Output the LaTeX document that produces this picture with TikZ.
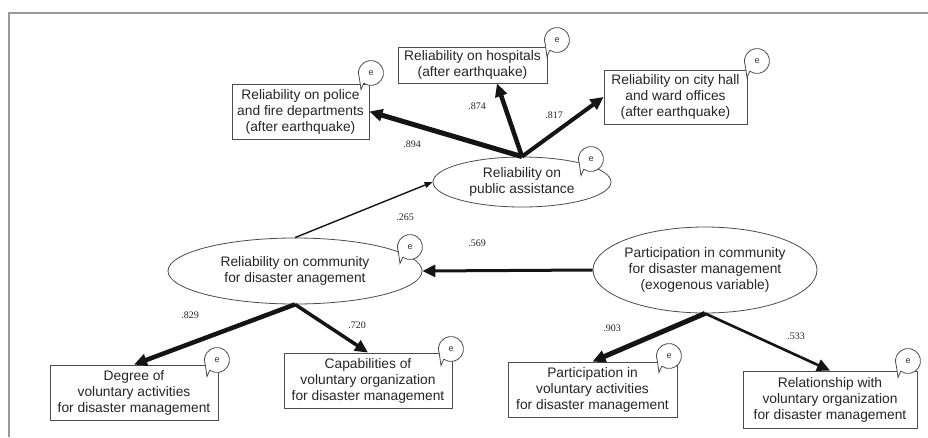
\documentclass[tikz,border=0pt]{standalone}
\usepackage{fontspec}
\setmainfont{Liberation Sans}
\newfontfamily\coeffont{Liberation Serif}
\usetikzlibrary{arrows.meta,shapes.geometric,calc}

\begin{document}
\begin{tikzpicture}[x=1pt,y=-1pt,
  boxtext/.style={font=\fontsize{13.8}{16}\selectfont, text=black!85, align=center},
  obs/.style={boxtext, draw=black!70, line width=0.9pt, fill=white, inner sep=0pt},
  lat/.style={ellipse, draw=black!70, line width=0.8pt, fill=white, inner sep=0pt},
  load/.style={draw=black!92, line width=#1, -{Triangle[length=13pt,width=12pt]}},
  thinload/.style={draw=black!92, line width=1.4pt, -{Triangle[length=8pt,width=6pt]}},
  coef/.style={font=\coeffont\fontsize{10}{11}\selectfont, text=black!85},
  err/.pic={
    \path[draw=black!70, line width=0.8pt, fill=white]
      (160:12.5) -- (-10,16.5) -- (125:12.5) arc[start angle=125, end angle=-200, radius=12.5] -- cycle;
    \node[font=\fontsize{9}{10}\selectfont, text=black!80] {e};
  }
]
\useasboundingbox (0,0) rectangle (928,437);
\fill[white] (0,0) rectangle (928,437);

% outer frame (top and left rules only)
\draw[black!40, line width=1.6pt] (9,437) -- (9,13) -- (928,13);

% observed indicators of public assistance
\node[obs, minimum width=137pt, minimum height=55pt] (police) at (300.5,111.5)
  {Reliability on police\\and fire departments\\(after earthquake)};
\node[obs, minimum width=149pt, minimum height=36pt] (hosp) at (472.5,65)
  {Reliability on hospitals\\(after earthquake)};
\node[obs, minimum width=143pt, minimum height=54pt] (city) at (675.5,97)
  {Reliability on city hall\\and ward offices\\(after earthquake)};

% latent variables
\node[lat, minimum width=178pt, minimum height=50pt] (pub) at (522,182) {};
\node[boxtext] (pubT) at (pub.center) {Reliability on\\public assistance};
\node[lat, minimum width=254pt, minimum height=66pt] (comm) at (295,271) {};
\node[boxtext] (commT) at (comm.center) {Reliability on community\\for disaster anagement};
\node[lat, minimum width=224pt, minimum height=86pt] (part) at (705,270) {};
\node[boxtext] (partT) at (part.center) {Participation in community\\for disaster management\\(exogenous variable)};

% observed indicators of the community variables
\node[obs, minimum width=168pt, minimum height=55pt] (degree) at (134,392.5)
  {Degree of\\voluntary activities\\for disaster management};
\node[obs, minimum width=168pt, minimum height=55pt] (cap) at (368,380.5)
  {Capabilities of\\voluntary organization\\for disaster management};
\node[obs, minimum width=169pt, minimum height=55pt] (pvol) at (592.5,389.5)
  {Participation in\\voluntary activities\\for disaster management};
\node[obs, minimum width=174pt, minimum height=57pt] (rel) at (830,399.5)
  {Relationship with\\voluntary organization\\for disaster management};

% paths
\draw[load=5pt] (pub.north) -- (police.east);
\draw[load=4.5pt] (pub.north) -- ($(hosp.south)+(24.5,0)$);
\draw[load=4pt] (pub.north) -- (city.west);
\draw[thinload] (comm.north) -- (pub.west);
\draw[load=3pt] (part.west) -- (comm.east);
\draw[load=4.5pt] (comm.south) -- (degree.north);
\draw[load=3.5pt] (comm.south) -- (cap.north);
\draw[load=5pt] (part.south) -- (pvol.north);
\draw[load=2.6pt] (part.south) -- (rel.north);

% standardized coefficients
\node[coef] (c1) at (412,144) {.894};
\node[coef] (c2) at (477,106) {.874};
\node[coef] (c3) at (554,115) {.817};
\node[coef] (c4) at (405,217) {.265};
\node[coef] (c5) at (477,243) {.569};
\node[coef] (c6) at (190,315) {.829};
\node[coef] (c7) at (357,325) {.720};
\node[coef] (c8) at (612,328) {.903};
\node[coef] (c9) at (796,336) {.533};

% error terms
\pic at (371,73) {err};
\pic at (557,40) {err};
\pic at (757,61) {err};
\pic at (591,159) {err};
\pic at (410,247) {err};
\pic at (217,360) {err};
\pic at (451,349) {err};
\pic at (669,356) {err};
\pic at (908,361) {err};
\end{tikzpicture}
\end{document}
